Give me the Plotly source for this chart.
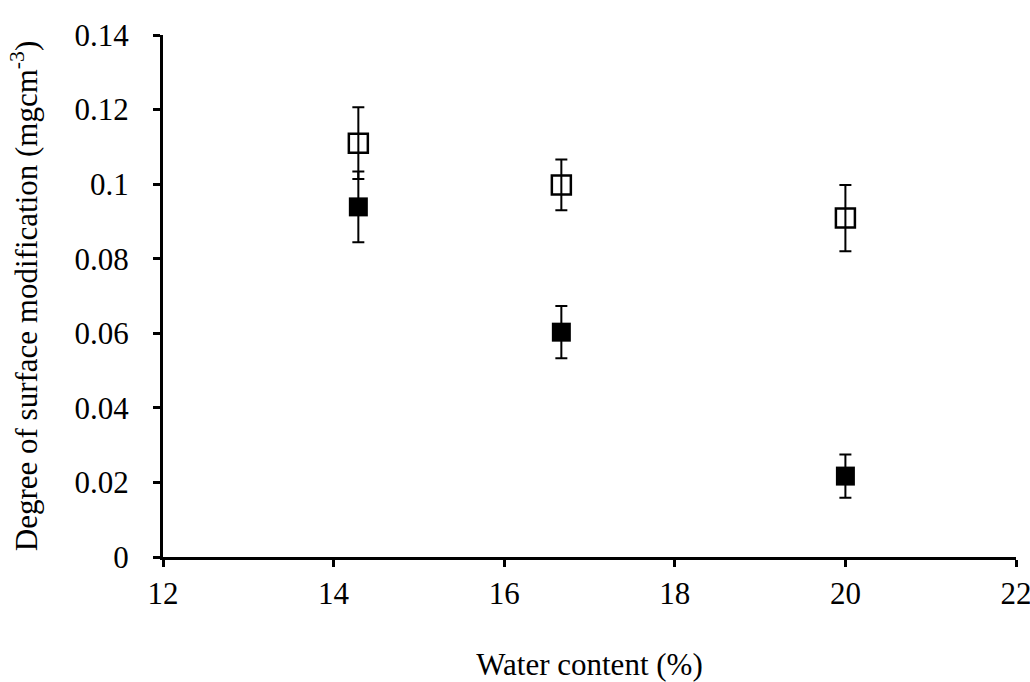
import plotly.graph_objects as go

water_content = [14.29, 16.67, 20.0]
open_values = [0.111, 0.0998, 0.0909]
open_errors = [0.0096, 0.0068, 0.0089]
filled_values = [0.0939, 0.0603, 0.0217]
filled_errors = [0.0095, 0.007, 0.0058]

x_ticks = [12, 14, 16, 18, 20, 22]
y_ticks = [0, 0.02, 0.04, 0.06, 0.08, 0.1, 0.12, 0.14]
y_tick_text = ["0", "0.02", "0.04", "0.06", "0.08", "0.1", "0.12", "0.14"]

font = dict(family="Liberation Serif, Times New Roman, serif", size=31, color="black")

fig = go.Figure()
fig.add_trace(go.Scatter(
    x=water_content, y=open_values, mode="markers",
    marker=dict(symbol="square-open", size=19, color="black", line=dict(width=2.5, color="black")),
    error_y=dict(type="data", array=open_errors, visible=True, color="black", thickness=2, width=6),
    showlegend=False,
))
fig.add_trace(go.Scatter(
    x=water_content, y=filled_values, mode="markers",
    marker=dict(symbol="square", size=19, color="black", line=dict(width=0)),
    error_y=dict(type="data", array=filled_errors, visible=True, color="black", thickness=2, width=6),
    showlegend=False,
))

fig.update_layout(
    width=1030, height=682,
    margin=dict(l=163, r=14, t=35, b=125),
    paper_bgcolor="white", plot_bgcolor="white",
    font=font,
)
fig.update_xaxes(
    range=[12, 22], tickvals=x_ticks, ticktext=[str(v) for v in x_ticks],
    showline=True, linecolor="black", linewidth=3, showgrid=False, zeroline=False,
    ticks="outside", ticklen=7, tickwidth=3, tickcolor="black", automargin=False,
    ticklabeloverflow="allow",
    title=dict(text="Water content (%)", standoff=44, font=font),
)
fig.update_yaxes(
    range=[0, 0.14], tickvals=y_ticks, ticktext=y_tick_text,
    showline=True, linecolor="black", linewidth=3, showgrid=False, zeroline=False,
    ticks="outside", ticklen=7, tickwidth=3, tickcolor="black", automargin=False,
    ticklabelstandoff=18, ticklabeloverflow="allow",
    title=dict(text="Degree of surface modification (mgcm<sup>-3</sup>)", standoff=28, font=font),
)
fig.write_html(
    "out.html",
    config={"displayModeBar": False},
    post_script="document.body.style.margin='0';document.body.style.overflow='hidden';",
)
